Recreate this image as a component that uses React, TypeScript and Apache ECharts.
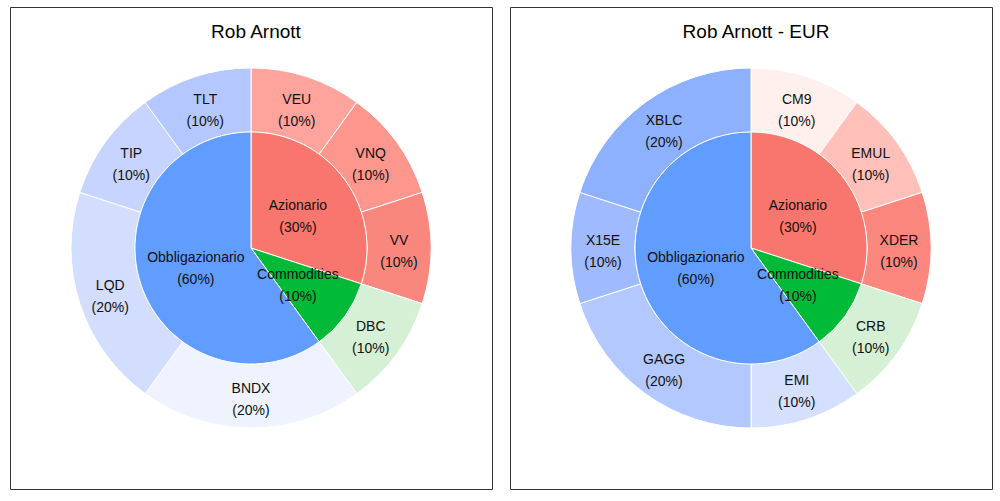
import React, { useEffect, useRef } from "react";
import * as echarts from "echarts";

const titles = ["Rob Arnott", "Rob Arnott - EUR"];

const innerNames = ["Azionario", "Commodities", "Obbligazionario"];
const innerValues = [30, 10, 60];
const innerColors = ["#F8766D", "#00BA38", "#619CFF"];

const outerNamesL = ["VEU", "VNQ", "VV", "DBC", "BNDX", "LQD", "TIP", "TLT"];
const outerValuesL = [10, 10, 10, 10, 20, 20, 10, 10];
const outerColorsL = ["#FFA49C", "#FD978E", "#F9877E", "#D5F0D5", "#EEF3FF", "#D3DEFF", "#C6D4FF", "#B4C8FF"];

const outerNamesR = ["CM9", "EMUL", "XDER", "CRB", "EMI", "GAGG", "X15E", "XBLC"];
const outerValuesR = [10, 10, 10, 10, 10, 20, 10, 20];
const outerColorsR = ["#FFF0EE", "#FFC0BA", "#FB877E", "#D5F0D5", "#D5DFFF", "#B3C8FF", "#A0BAFF", "#8DB1FF"];

const FONT = "Liberation Sans, Arial, sans-serif";

function makeData(names: string[], values: number[], colors: string[]) {
  return names.map((n, i) => ({ name: n, value: values[i], itemStyle: { color: colors[i] } }));
}

function pieSeries(cx: number, cy: number, radius: [number, number], data: any[]) {
  return {
    type: "pie",
    center: [cx, cy],
    radius,
    startAngle: 90,
    clockwise: true,
    silent: true,
    avoidLabelOverlap: false,
    itemStyle: { borderColor: "#ffffff", borderWidth: 1 },
    label: {
      show: true,
      position: "inside",
      formatter: "{b}\n({c}%)",
      fontFamily: FONT,
      fontSize: 14,
      lineHeight: 22,
      color: "#111111",
    },
    labelLine: { show: false },
    labelLayout: (p: any) => {
      const r = p.labelRect;
      const lx = r.x + r.width / 2;
      const ly = r.y + r.height / 2;
      const vx = lx - cx;
      const vy = ly - cy;
      const d = Math.sqrt(vx * vx + vy * vy) || 1;
      const k = (d - 3) / d;
      const nx = cx + vx * k;
      const ny = cy + vy * k + 2.5;
      return { dx: nx - lx, dy: ny - ly };
    },
    emphasis: { disabled: true },
    data,
  };
}

export default function App() {
  const ref = useRef<HTMLDivElement>(null);
  useEffect(() => {
    if (!ref.current) return;
    const chart = echarts.init(ref.current, undefined, { renderer: "svg" });
    const centers = [
      [251, 248],
      [751, 248],
    ];
    chart.setOption({
      animation: false,
      backgroundColor: "#ffffff",
      title: titles.map((t, i) => ({
        text: t,
        left: centers[i][0],
        top: 17,
        textAlign: "center",
        textStyle: { fontFamily: FONT, fontSize: 19, fontWeight: "normal", color: "#000000" },
      })),
      graphic: [
        { type: "rect", shape: { x: 10.5, y: 7.5, width: 482, height: 482 }, style: { fill: "none", stroke: "#333333", lineWidth: 1 } },
        { type: "rect", shape: { x: 510.5, y: 7.5, width: 482, height: 482 }, style: { fill: "none", stroke: "#333333", lineWidth: 1 } },
      ],
      series: [
        pieSeries(centers[0][0], centers[0][1], [116, 180], makeData(outerNamesL, outerValuesL, outerColorsL)),
        pieSeries(centers[0][0], centers[0][1], [0, 116], makeData(innerNames, innerValues, innerColors)),
        pieSeries(centers[1][0], centers[1][1], [116, 180], makeData(outerNamesR, outerValuesR, outerColorsR)),
        pieSeries(centers[1][0], centers[1][1], [0, 116], makeData(innerNames, innerValues, innerColors)),
      ],
    });
    return () => chart.dispose();
  }, []);
  return (
    <div
      ref={ref}
      style={{ position: "fixed", left: 0, top: 0, width: 1000, height: 501, background: "#fff" }}
    />
  );
}
